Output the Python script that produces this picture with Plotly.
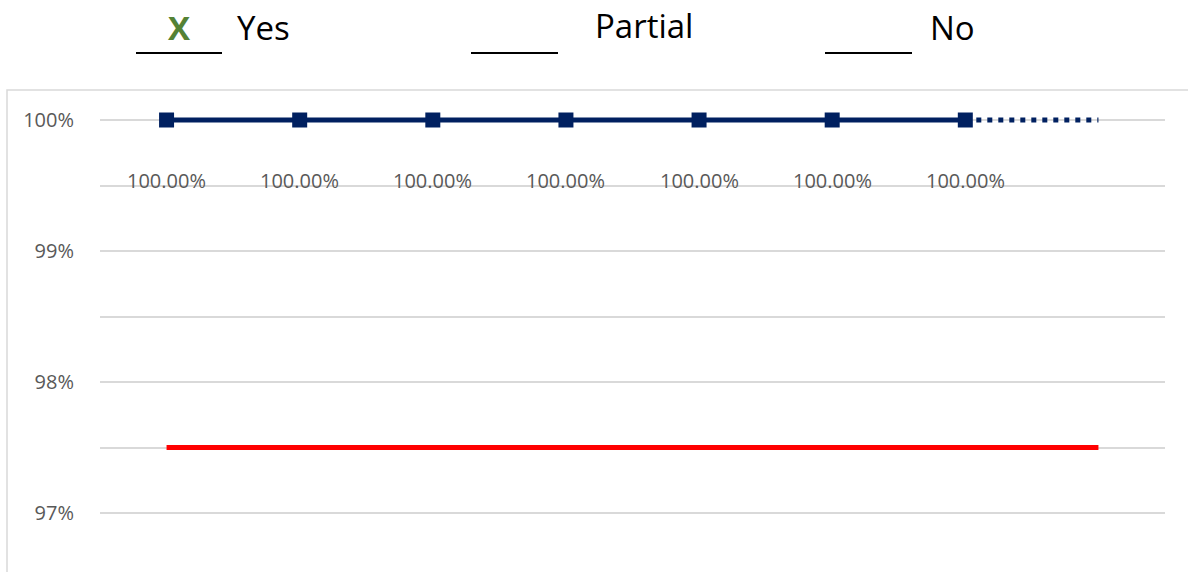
import plotly.graph_objects as go

# ---- data ----
categories = ["P1", "P2", "P3", "P4", "P5", "P6", "P7", "P8"]
actual = [100, 100, 100, 100, 100, 100, 100, None]
projection = [None, None, None, None, None, None, 100, 100]
target = [97.5, 97.5, 97.5, 97.5, 97.5, 97.5, 97.5, 97.5]
data_labels = ["100.00%"] * 7
tick_vals = [97, 97.5, 98, 98.5, 99, 99.5, 100]
tick_text = ["97%", "", "98%", "", "99%", "", "100%"]
header_options = ["Yes", "Partial", "No"]
header_mark = "X"

W, H = 1188, 572
L, R, T, B = 100, 1165, 100, 572
PW, PH = R - L, B - T


def px(x):
    return (x - L) / PW


def py(y):
    return (B - y) / PH


fig = go.Figure()

fig.add_trace(go.Scatter(
    x=categories, y=target, mode="lines",
    line=dict(color="#ff0000", width=5),
    showlegend=False, hoverinfo="skip"))

fig.add_trace(go.Scatter(
    x=categories, y=projection, mode="lines",
    line=dict(color="#002060", width=5, dash="5px,6px"),
    showlegend=False, hoverinfo="skip"))

fig.add_trace(go.Scatter(
    x=categories, y=actual, mode="lines+markers",
    line=dict(color="#002060", width=5),
    marker=dict(symbol="square", size=15, color="#002060"),
    showlegend=False, hoverinfo="skip"))

annotations = []
for i, lab in enumerate(data_labels):
    annotations.append(dict(
        x=categories[i], y=actual[i], xref="x", yref="y",
        text=lab, showarrow=False, yshift=-60,
        font=dict(family="Open Sans", size=20, color="#595959")))

# header (checkbox style)
hdr_font = dict(family="Open Sans", size=33, color="#000000")
annotations.append(dict(x=px(179), y=py(28), xref="paper", yref="paper",
                        text="<b>" + header_mark + "</b>", showarrow=False,
                        xanchor="center", yanchor="middle",
                        font=dict(family="Open Sans", size=33, color="#548235")))
hdr_pos = [(235, 28), (593, 25), (928, 27)]
for lab, (hx, hy) in zip(header_options, hdr_pos):
    annotations.append(dict(x=px(hx), y=py(hy), xref="paper", yref="paper",
                            text=lab, showarrow=False,
                            xanchor="left", yanchor="middle", font=hdr_font))

shapes = []
for x0, x1 in [(136, 222), (471, 558), (825, 912)]:
    shapes.append(dict(type="line", xref="paper", yref="paper",
                       x0=px(x0), x1=px(x1), y0=py(53), y1=py(53),
                       line=dict(color="#000000", width=2)))
# chart area border
shapes.append(dict(type="rect", xref="paper", yref="paper",
                   x0=px(7), x1=px(1200), y0=py(600), y1=py(90),
                   line=dict(color="#d9d9d9", width=1.5), layer="below"))

fig.update_layout(
    width=W, height=H,
    margin=dict(l=L, r=W - R, t=T, b=H - B, pad=0),
    paper_bgcolor="white", plot_bgcolor="white",
    annotations=annotations, shapes=shapes,
    xaxis=dict(type="category", range=[-0.5, 7.5], showticklabels=False,
               showgrid=False, zeroline=False, showline=False, fixedrange=True),
    yaxis=dict(range=[97 - 59 / 131, 100 + 20 / 131], tickmode="array",
               tickvals=tick_vals, ticktext=tick_text,
               showgrid=True, gridcolor="#d9d9d9", gridwidth=1.5,
               zeroline=False, showline=False, ticks="",
               ticklabelstandoff=25,
               tickfont=dict(family="Open Sans", size=20, color="#595959"),
               fixedrange=True),
)

fig.write_html("out.html", config={"displayModeBar": False})
